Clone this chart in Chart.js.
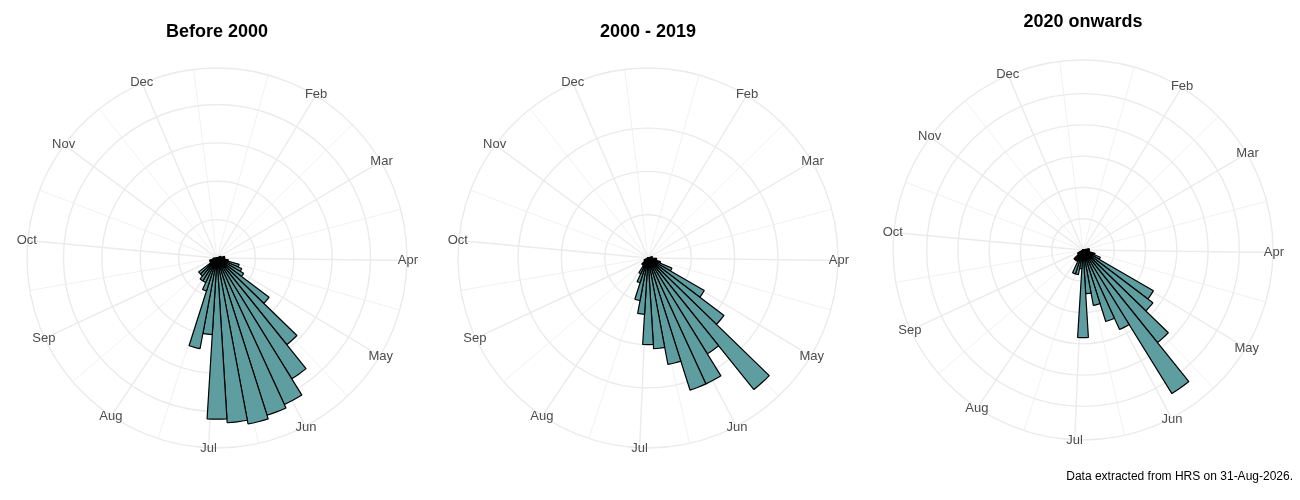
<!DOCTYPE html>
<html>
<head>
<meta charset="utf-8">
<title>Weekly records by period</title>
<script src="https://cdn.jsdelivr.net/npm/chart.js@4.4.1/dist/chart.umd.min.js"></script>
<style>
  body { margin: 0; background: #fff; }
  #wrap { position: relative; width: 1300px; height: 500px; overflow: hidden; }
  .panel { position: absolute; top: 0; height: 500px; }
</style>
</head>
<body>
<div id="wrap">
  <div class="panel" style="left:0px;width:433px"><canvas id="p1"></canvas></div>
  <div class="panel" style="left:433px;width:433px"><canvas id="p2"></canvas></div>
  <div class="panel" style="left:866px;width:434px"><canvas id="p3"></canvas></div>
</div>
<script>
// 51 weekly bins fill the full circle, week 1 starting at the top
const weeksInCircle = 51;
const weeks = [];
for (let i = 1; i <= weeksInCircle; i++) weeks.push('Week ' + i);

// month breaks (day of year) and the minor breaks between them
const monthNames = ['Feb', 'Mar', 'Apr', 'May', 'Jun', 'Jul', 'Aug', 'Sep', 'Oct', 'Nov', 'Dec'];
const monthStartDay = [32, 60, 91, 121, 152, 182, 213, 244, 274, 305, 335];
const minorDay = [16.5, 46, 75.5, 106, 136.5, 167, 197.5, 228.5, 259, 289.5, 320, 351];

// counts per week
const before2000 = [0, 0, 0, 0, 0, 0, 0, 0, 0, 1, 1, 2, 2, 2, 3, 6, 7, 8, 17, 29,
  37, 42, 43, 44, 43, 42, 20, 24, 9, 7, 7, 6, 6, 2, 2, 2, 1, 1, 0, 0,
  0, 0, 0, 0, 0, 0, 0, 0, 0, 0, 0];
const from2000to2019 = [0, 0, 0, 0, 0, 0, 0, 0, 0, 0, 1, 1, 1, 2, 2, 3, 6, 15, 22, 39,
  26, 32, 32, 25, 21, 20, 13, 10, 6, 4, 2, 2, 1, 1, 1, 0, 0, 0, 0, 0,
  0, 0, 0, 0, 0, 0, 0, 0, 0, 0, 0];
const from2020 = [0, 0, 0, 0, 0, 0, 0, 0, 0, 0, 0, 1, 1, 1, 1, 2, 3, 13, 14, 19,
  27, 14, 12, 9, 7, 14, 3, 4, 4, 2, 2, 2, 1, 1, 0, 0, 0, 0, 0, 0,
  0, 0, 0, 0, 0, 0, 0, 0, 0, 0, 0];

// radial gridline breaks for each panel
const rBreaks1 = [0, 10, 20, 30, 40];
const rBreaks2 = [0, 10, 20, 30];
const rBreaks3 = [0, 5, 10, 15, 20, 25];

const barFill = '#5f9ea0';
const gridColor = '#ebebeb';
const fontFamily = "'Liberation Sans', Arial, sans-serif";

function dayAngle(day) {
  // degrees clockwise from the top
  return (day - 1) / 7 * (360 / weeksInCircle);
}

function pointAt(scale, deg, dist) {
  const a = (deg - 90) * Math.PI / 180;
  return { x: scale.xCenter + dist * Math.cos(a), y: scale.yCenter + dist * Math.sin(a) };
}

const polarGuides = {
  id: 'polarGuides',
  beforeDatasetsDraw(chart) {
    const r = chart.scales.r;
    const ctx = chart.ctx;
    const outer = r.getDistanceFromCenterForValue(r.max);
    ctx.save();
    ctx.strokeStyle = gridColor;
    const spoke = (day, w) => {
      const p = pointAt(r, dayAngle(day), outer);
      ctx.lineWidth = w;
      ctx.beginPath();
      ctx.moveTo(r.xCenter, r.yCenter);
      ctx.lineTo(p.x, p.y);
      ctx.stroke();
    };
    minorDay.forEach(d => spoke(d, 0.7));
    monthStartDay.forEach(d => spoke(d, 1.4));
    ctx.restore();
  },
  afterDraw(chart) {
    const r = chart.scales.r;
    const ctx = chart.ctx;
    const outer = r.getDistanceFromCenterForValue(r.max);
    ctx.save();
    ctx.fillStyle = '#4d4d4d';
    ctx.font = '13px ' + fontFamily;
    ctx.textAlign = 'center';
    ctx.textBaseline = 'middle';
    monthStartDay.forEach((d, i) => {
      const p = pointAt(r, dayAngle(d), outer + 1);
      ctx.fillText(monthNames[i], p.x, p.y);
    });
    const cap = chart.options.plugins.polarGuides.caption;
    if (cap) {
      ctx.fillStyle = '#000';
      ctx.font = '12px ' + fontFamily;
      ctx.textAlign = 'right';
      ctx.fillText(cap, chart.width - 7, 477);
    }
    ctx.restore();
  }
};

function makeChart(id, title, values, breaks, maxCount, pad, titlePad, caption) {
  const rMax = maxCount * 1.125;
  return new Chart(document.getElementById(id), {
    type: 'polarArea',
    data: {
      labels: weeks,
      datasets: [{
        label: title,
        data: values,
        backgroundColor: barFill,
        borderColor: '#000',
        borderWidth: 1.2
      }]
    },
    options: {
      responsive: true,
      maintainAspectRatio: false,
      animation: false,
      layout: { padding: pad },
      scales: {
        r: {
          min: 0,
          max: rMax,
          startAngle: 0,
          afterBuildTicks: scale => {
            scale.ticks = breaks.concat([rMax]).map(v => ({ value: v }));
          },
          ticks: { display: false },
          grid: { circular: true, color: gridColor, lineWidth: 1.4 },
          angleLines: { display: false },
          pointLabels: { display: false }
        }
      },
      plugins: {
        legend: { display: false },
        title: {
          display: true,
          text: title,
          color: '#000',
          font: { family: fontFamily, size: 18, weight: 'bold' },
          padding: titlePad
        },
        polarGuides: { caption: caption }
      }
    },
    plugins: [polarGuides]
  });
}

makeChart('p1', 'Before 2000', before2000, rBreaks1, 44,
  { left: 27, right: 26, top: 0, bottom: 52 }, { top: 21.4, bottom: 25 }, null);
makeChart('p2', '2000 - 2019', from2000to2019, rBreaks2, 39,
  { left: 25, right: 28, top: 0, bottom: 52 }, { top: 21.4, bottom: 25 }, null);
makeChart('p3', '2020 onwards', from2020, rBreaks3, 27,
  { left: 27, right: 27, top: 0, bottom: 60 }, { top: 11.2, bottom: 27.2 },
  'Data extracted from HRS on 31-Aug-2026.');
</script>
</body>
</html>
